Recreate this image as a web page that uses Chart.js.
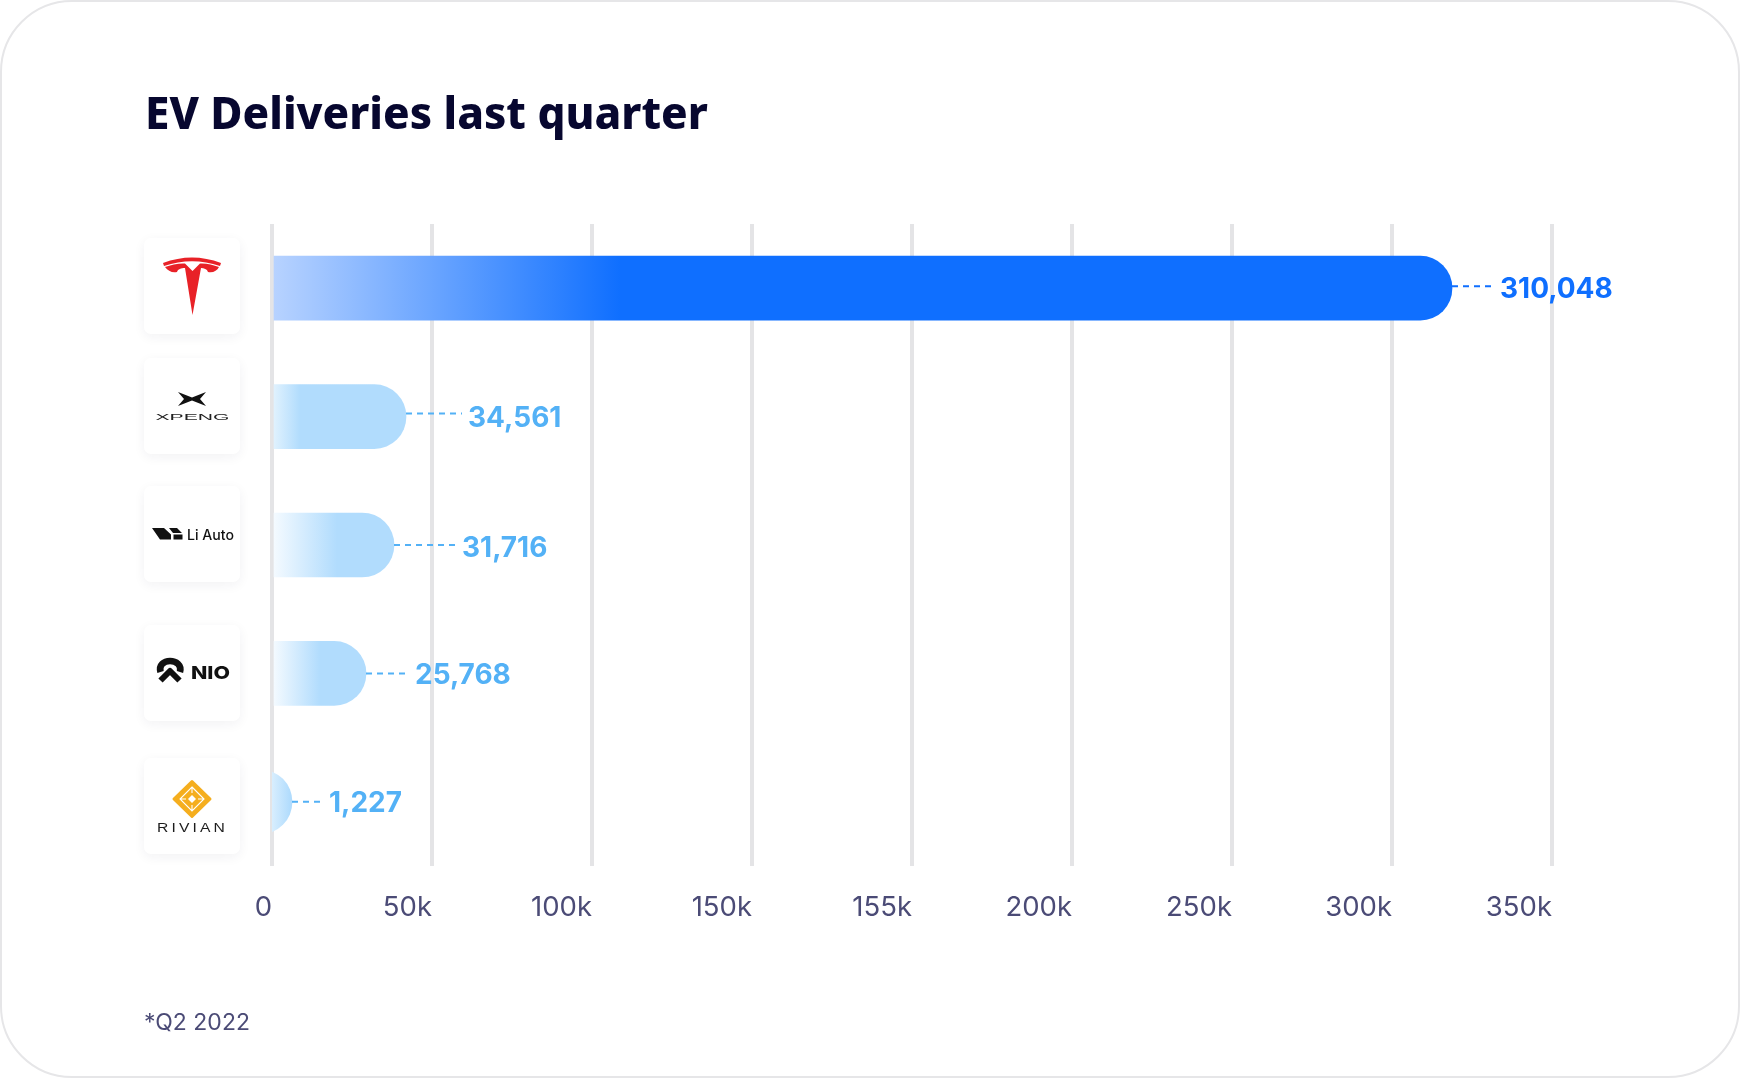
<!DOCTYPE html>
<html>
<head>
<meta charset="utf-8">
<title>EV Deliveries last quarter</title>
<script src="https://cdn.jsdelivr.net/npm/chart.js@4"></script>
<style>
    html, body { margin: 0; padding: 0; background: #fff; }
    #page { position: relative; width: 1740px; height: 1078px; overflow: hidden; }
    #frame { position: absolute; left: 0; top: 0; width: 1736px; height: 1074px; border: 2px solid #e6e6e8; border-radius: 72px; }
    #grafico { position: absolute; left: 0; top: 0; }
    h1 { position: absolute; left: 145px; top: 82px; margin: 0; font: 800 44px "Noto Sans", sans-serif; line-height: 60px; color: #07072f; white-space: nowrap; }
    #nota { position: absolute; left: 144px; top: 1007px; font: 23px Inter, sans-serif; line-height: 30px; color: #4b4b76; white-space: nowrap; }
    .logo { position: absolute; left: 144px; width: 96px; height: 96px; background: #fff; border-radius: 7px; box-shadow: 0 3px 12px rgba(30, 30, 60, 0.06); }
    .logo svg { display: block; width: 96px; height: 96px; }
</style>
</head>
<body>
<div id="page">
    <div id="frame"></div>
    <canvas id="grafico" width="1740" height="1078"></canvas>
    <h1>EV Deliveries last quarter</h1>
    <div id="nota">*Q2 2022</div>

    <div class="logo" style="top:238px" title="Tesla">
        <svg viewBox="0 0 96 96">
            <path fill="#e82127" d="M19,25 Q48,14 77,25 L76,28 Q48,18.500 20,28 Z"/>
            <path fill="#e82127" d="M21,29 C27,27 35,25 41,25.500 L48.500,33 L56,25.500 C62,25 69,27 75,29 C73,33 69,35 64,34 C63,31 60,30 57,30 L48.500,77 L41,30 C37,30 34,31 33,34 C28,35 24,33 21,29 Z"/>
        </svg>
    </div>
    <div class="logo" style="top:358px" title="XPeng">
        <svg viewBox="0 0 96 96">
            <path fill="#111" d="M34,34 L48,39.500 L62,34 L56,41 L62,48 L48,42.500 L34,48 L40,41 Z"/>
            <text x="11.500" y="62" font-family="Liberation Sans" font-size="9" fill="#222" textLength="74" lengthAdjust="spacingAndGlyphs">XPENG</text>
        </svg>
    </div>
    <div class="logo" style="top:486px" title="Li Auto">
        <svg viewBox="0 0 96 96">
            <path fill="#111" d="M8,42 L20,42 L27,48.500 L27,53.500 L16,53.500 Z M25,42 L33,42 L38,47 L29,47 Z M29.500,48.500 L38.500,48.500 L38.500,53.500 L29.500,53.500 Z"/>
            <text x="43" y="53.500" font-family="Inter" font-weight="500" font-size="14.500" fill="#111" textLength="47" lengthAdjust="spacingAndGlyphs">Li Auto</text>
        </svg>
    </div>
    <div class="logo" style="top:625px" title="NIO">
        <svg viewBox="0 0 96 96">
            <path fill="none" stroke="#111" stroke-width="6.500" d="M16.500,47 C14.500,40 20,36 26,36 C32,36 38,40 36,47"/>
            <path fill="none" stroke="#111" stroke-width="6" stroke-linejoin="round" d="M16.500,55.500 L26,46 L35.500,55.500"/>
            <text x="47" y="54" font-family="Inter" font-weight="800" font-size="18" fill="#111" textLength="39" lengthAdjust="spacingAndGlyphs">NIO</text>
        </svg>
    </div>
    <div class="logo" style="top:758px" title="Rivian">
        <svg viewBox="0 0 96 96">
            <path fill="#f5ae1e" stroke="#f5ae1e" stroke-width="3" stroke-linejoin="round" d="M48,23.500 L66,41 L48,58.500 L30,41 Z"/>
            <path fill="none" stroke="#fff" stroke-width="1.100" d="M48,29 L60,41 L48,53 L36,41 Z M48,29 L48,35 M48,47 L48,53 M36,41 L42,41 M54,41 L60,41"/>
            <path fill="#fff" d="M48,37 L52,41 L48,45 L44,41 Z"/>
            <text x="13" y="73.500" font-family="Liberation Sans" font-size="12.500" fill="#1c1c1c" textLength="71" lengthAdjust="spacingAndGlyphs" letter-spacing="2.500">RIVIAN</text>
        </svg>
    </div>
</div>

<script>
const empresas = ['Tesla', 'XPeng', 'Li Auto', 'NIO', 'Rivian'];
const entregas = [310048, 34561, 31716, 25768, 1227];
const rotulosEixo = ['0', '50k', '100k', '150k', '155k', '200k', '250k', '300k', '350k'];

// the bars in the picture don't sit where their labels would put them on the
// axis, so lengths are read off the gridlines (one gridline = 50000)
const inicioBarras = [0, 0, 0, 0, -20000];
const fimBarras = [368750, 41875, 38125, 29375, 6250];

// estilo de cada barra
const coresBarra = ['#0f6fff', '#b1dcfd', '#b1dcfd', '#b1dcfd', '#b1dcfd'];
const coresInicio = ['#b8d3ff', '#e3f3fe', '#f6fbff', '#f6fbff', '#d8eefe'];
const coresTexto = ['#0f6fff', '#53b1f6', '#53b1f6', '#53b1f6', '#53b1f6'];
const fimDegrade = [348, 28, 65, 48, 18];
const tamanhoTraco = [43, 56, 61, 41, 30];
const ajusteTraco = [-2, -3, 0, 0, 0];
const distanciaTexto = [48, 62, 68, 49, 37];
const ajusteTexto = [10, 10, 12, 11, 10];

const rotulosValor = {
    id: 'rotulosValor',
    afterDatasetsDraw(chart) {
        const c = chart.ctx;
        chart.getDatasetMeta(0).data.forEach((barra, i) => {
            // barra.x is the base side on the floating bar, so ask the scale
            const x = chart.scales.x.getPixelForValue(fimBarras[i]);
            c.save();
            c.strokeStyle = coresTexto[i];
            c.lineWidth = 2;
            c.setLineDash([6, 5]);
            c.beginPath();
            c.moveTo(x, barra.y + ajusteTraco[i]);
            c.lineTo(x + tamanhoTraco[i], barra.y + ajusteTraco[i]);
            c.stroke();
            c.setLineDash([]);
            c.fillStyle = coresTexto[i];
            c.font = '700 28px Inter, sans-serif';
            c.textBaseline = 'alphabetic';
            c.fillText(entregas[i].toLocaleString('en-US'), x + distanciaTexto[i], barra.y + ajusteTexto[i]);
            c.restore();
        });
    }
};

function corBarra(context) {
    const i = context.dataIndex;
    const area = context.chart.chartArea;
    if (!area) return coresBarra[i];
    const g = context.chart.ctx.createLinearGradient(area.left, 0, area.left + fimDegrade[i], 0);
    g.addColorStop(0, coresInicio[i]);
    g.addColorStop(1, coresBarra[i]);
    return g;
}

const chart = new Chart(document.getElementById('grafico').getContext('2d'), {
    type: 'bar',
    data: {
        labels: empresas,
        datasets: [{
            label: 'EV Deliveries',
            data: fimBarras.map((fim, i) => [inicioBarras[i], fim]),
            backgroundColor: corBarra,
            barThickness: 64,
            borderSkipped: false,
            borderRadius: { topLeft: 0, bottomLeft: 0, topRight: 32, bottomRight: 32 }
        }]
    },
    options: {
        indexAxis: 'y',
        responsive: false,
        animation: false,
        layout: { padding: { left: 272, right: 188, top: 224, bottom: 129 } },
        plugins: {
            legend: { display: false },
            title: { display: false },
            tooltip: { enabled: false }
        },
        scales: {
            x: {
                min: 0,
                max: 400000,
                border: { display: false },
                grid: { color: '#e4e4e6', lineWidth: 4, drawTicks: false },
                ticks: {
                    stepSize: 50000,
                    autoSkip: false,
                    maxRotation: 0,
                    align: 'end',
                    padding: 25,
                    color: '#4b4b76',
                    font: { family: 'Inter, sans-serif', size: 27.5 },
                    callback: function(valor, indice) {
                        return rotulosEixo[indice];
                    }
                }
            },
            y: { display: false }
        }
    },
    plugins: [rotulosValor]
});
</script>
</body>
</html>
